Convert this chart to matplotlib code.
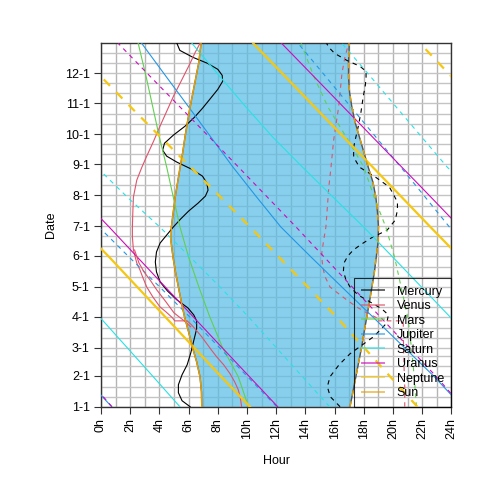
import numpy as np
import matplotlib.pyplot as plt
from matplotlib.lines import Line2D

plt.rcParams['font.family'] = ['Liberation Sans', 'DejaVu Sans']

# y axis: day of year, ticks on the first of each month
month_days = [0, 31, 59, 90, 120, 151, 181, 212, 243, 273, 304, 334]
month_labels = ['1-1', '2-1', '3-1', '4-1', '5-1', '6-1',
                '7-1', '8-1', '9-1', '10-1', '11-1', '12-1']
hour_ticks = list(range(0, 25, 2))
hour_labels = ['%dh' % h for h in hour_ticks]

# sun (hours)
sun_days = [0, 15, 30, 45, 60, 75, 90, 105, 120, 135, 150, 165, 180, 195,
            210, 225, 240, 255, 270, 285, 300, 315, 330, 345, 364]
sun_rise = [6.9, 6.88, 6.78, 6.55, 6.25, 6.0, 5.72, 5.5, 5.3, 5.1, 4.93, 4.8,
            4.82, 4.95, 5.08, 5.25, 5.42, 5.6, 5.75, 5.92, 6.1, 6.3, 6.5, 6.7, 6.85]
sun_set = [17.05, 17.25, 17.45, 17.65, 17.85, 18.02, 18.2, 18.38, 18.55, 18.72,
           18.85, 18.97, 19.0, 18.93, 18.82, 18.62, 18.3, 18.0, 17.7, 17.4,
           17.18, 17.02, 16.95, 16.95, 17.0]

# Mercury
mercury_rise_days = [0, 6, 14, 22, 32, 42, 54, 66, 78, 86, 92, 99, 107, 116, 125,
                     135, 145, 155, 164, 172, 180, 188, 196, 204, 211, 217, 224,
                     231, 238, 245, 251, 257, 264, 272, 281, 290, 299, 308, 318,
                     326, 332, 338, 344, 350, 357, 364]
mercury_rise = [6.1, 5.55, 5.3, 5.3, 5.55, 5.9, 6.15, 6.35, 6.55, 6.55, 6.35, 5.95,
                5.2, 4.55, 4.05, 3.8, 3.72, 3.8, 4.05, 4.5, 4.95, 5.45, 6.0, 6.65,
                7.15, 7.33, 7.25, 6.95, 6.2, 5.2, 4.5, 4.22, 4.35, 4.95, 5.75, 6.4,
                6.95, 7.45, 8.0, 8.33, 8.3, 8.0, 7.3, 6.3, 5.4, 5.2]
mercury_set_days = [0, 10, 20, 30, 42, 53, 62, 70, 78, 84, 92, 98, 105, 112, 120,
                    128, 136, 144, 151, 157, 163, 169, 177, 187, 197, 205, 212,
                    220, 230, 240, 250, 260, 270, 281, 295, 310, 322, 330, 336,
                    341, 347, 354, 360, 364]
mercury_set = [16.37, 15.7, 15.5, 15.68, 16.3, 17.05, 17.9, 18.65, 19.2, 19.57,
               19.68, 19.23, 18.42, 17.6, 17.05, 16.75, 16.6, 16.64, 16.9, 17.28,
               17.85, 18.5, 19.6, 20.15, 20.3, 20.3, 20.05, 19.75, 18.8, 17.7,
               17.3, 17.3, 17.45, 17.62, 17.8, 17.95, 18.1, 18.15, 18.15, 17.74,
               16.83, 16.0, 15.6, 15.45]

# Venus
venus_rise_days = [0, 8, 17, 25, 33, 42, 50, 57, 64, 70, 77, 82, 86, 86, 89, 95,
                   100, 110, 120, 130, 137, 144, 157, 170, 180, 195, 210, 227, 240,
                   251, 266, 281, 296, 311, 328, 344, 355, 364]
venus_rise = [9.63, 9.55, 9.4, 9.15, 8.84, 8.4, 7.92, 7.55, 7.2, 6.9, 6.5, 6.2,
              5.9, 5.05, 4.9, 4.45, 4.04, 3.55, 3.13, 2.85, 2.67, 2.45, 2.22, 2.15,
              2.15, 2.18, 2.22, 2.45, 2.8, 3.13, 3.6, 4.04, 4.5, 4.96, 5.55, 6.1,
              6.45, 6.78]
venus_rise_b_days = [80, 86, 94, 105, 117, 127, 135, 144, 157]
venus_rise_b = [6.15, 5.7, 5.0, 4.45, 3.82, 3.36, 2.95, 2.6, 2.3]
venus_set_days = [0, 20, 40, 60, 75, 86, 86, 89, 94, 100, 107, 114, 120, 130, 137,
                  145, 154, 167, 180, 200, 220, 240, 267, 300, 334, 350, 364]
venus_set = [20.8, 20.8, 20.75, 20.72, 20.7, 20.7, 18.9, 18.9, 18.2, 17.5, 16.83,
             16.2, 15.68, 15.35, 15.23, 15.15, 15.12, 15.25, 15.4, 15.5, 15.6,
             15.75, 15.93, 16.27, 16.5, 16.7, 16.96]

# outer planets, sampled about once a month
sample_days = [0, 30, 60, 90, 120, 150, 180, 210, 240, 270, 300, 330, 364]
mars_rise = [10.1, 9.4, 8.3, 7.45, 6.7, 6.0, 5.41, 4.95, 4.5, 4.0, 3.55, 3.1, 2.55]
mars_set = [21.6, 21.45, 21.25, 21.0, 20.55, 20.1, 19.5, 18.7, 18.0, 16.8, 15.55,
            14.6, 13.7]
jupiter_rise = [0.73, 22.83, 20.72, 18.61, 16.49, 14.38, 12.32, 10.66, 9.04, 7.53,
                6.02, 4.5, 2.79]
jupiter_set = [12.03, 10.04, 8.06, 6.07, 4.02, 1.92, 23.86, 22.2, 20.53, 18.83,
               17.13, 15.43, 13.5]
saturn_rise = [5.4, 3.58, 1.74, 23.9, 21.94, 19.97, 17.99, 15.89, 13.8, 11.77,
               9.94, 8.19, 6.23]
saturn_set = [15.65, 13.8, 11.95, 10.1, 8.15, 6.1, 4.03, 1.8, 23.71, 21.97, 20.23,
              18.5, 16.5]
uranus_rise = [12.1, 10.17, 8.24, 6.32, 4.4, 2.48, 0.56, 22.59, 20.6, 18.61,
               16.62, 14.63, 12.37]
uranus_set = [0.75, 22.97, 21.04, 19.12, 17.2, 15.28, 13.36, 11.39, 9.42, 7.43,
              5.43, 3.43, 1.18]
neptune_rise = [10.2, 8.24, 6.32, 4.4, 2.48, 0.56, 22.56, 20.59, 18.61, 16.63,
                14.65, 12.67, 10.43]
neptune_set = [21.66, 19.81, 17.97, 16.12, 14.16, 12.18, 10.21, 8.19, 6.14, 4.09,
               2.05, 0.05, 21.85]

names = ['Mercury', 'Venus', 'Mars', 'Jupiter', 'Saturn', 'Uranus', 'Neptune', 'Sun']
colors = ['black', '#DF536B', '#61D04F', '#2297E6', '#28E2E5', '#CD0BBC',
          '#F5C710', '#E69F00']


def unwrap(hours):
    # keep the line continuous across midnight
    h = np.asarray(hours, float)
    out = h.copy()
    for i in range(1, len(h)):
        k = np.round((out[i - 1] - h[i]) / 24.0)
        out[i] = h[i] + 24 * k
    return out


def draw(ax, days, hours, color, ls, lw):
    h = unwrap(hours)
    dash = (0, (4, 4)) if ls == 'dashed' else '-'
    for off in (-48, -24, 0, 24, 48):
        ax.plot(h + off, days, color=color, ls=dash, lw=lw, zorder=3)


fig = plt.figure(figsize=(4.8, 4.8), dpi=100)
ax = fig.add_axes([0.2104, 0.1527, 0.7302, 0.7571])

# grid: every hour, and the 1st, 11th and 21st of each month
for h in range(0, 25):
    ax.axvline(h, color='#B4B4B4', lw=1.0, zorder=0.5)
for m in month_days:
    for k in (0, 10, 20):
        ax.axhline(m + k, color='#C4C4C4', lw=1.0, zorder=0.5)

# daylight band, a bit see-through so the grid shows in grey
ax.fill_betweenx(sun_days, sun_rise, sun_set, color='#5BBDE6', alpha=0.72,
                 lw=0, zorder=1)
ax.plot(sun_rise, sun_days, color='#555555', lw=1.0, zorder=1.2)
ax.plot(sun_set, sun_days, color='#555555', lw=1.0, zorder=1.2)

series = [
    (mercury_rise_days, mercury_rise, mercury_set_days, mercury_set),
    (venus_rise_days, venus_rise, venus_set_days, venus_set),
    (sample_days, mars_rise, sample_days, mars_set),
    (sample_days, jupiter_rise, sample_days, jupiter_set),
    (sample_days, saturn_rise, sample_days, saturn_set),
    (sample_days, uranus_rise, sample_days, uranus_set),
    (sample_days, neptune_rise, sample_days, neptune_set),
]
for i, (rd, r, sd, s) in enumerate(series):
    lw = 1.6 if names[i] == 'Neptune' else 0.8
    draw(ax, rd, r, colors[i], 'solid', lw)
    draw(ax, sd, s, colors[i], 'dashed', lw)
draw(ax, venus_rise_b_days, venus_rise_b, colors[1], 'solid', 0.8)

ax.plot(sun_rise, sun_days, color=colors[7], lw=1.0, zorder=4)
ax.plot(sun_set, sun_days, color=colors[7], lw=1.0, ls=(0, (4, 4)), zorder=4)

ax.set_xlim(0, 24)
ax.set_ylim(0, 364.1)
ax.set_xticks(hour_ticks)
ax.set_xticklabels(hour_labels, rotation=90)
ax.set_yticks(month_days)
ax.set_yticklabels(month_labels)
ax.tick_params(direction='out', length=5, width=0.8, color='#333333',
               labelsize=9, pad=3)
for sp in ax.spines.values():
    sp.set_color('#333333')
    sp.set_linewidth(1.0)
ax.set_xlabel('Hour', fontsize=9, labelpad=12)
ax.set_ylabel('Date', fontsize=9, labelpad=6)

handles = [Line2D([], [], color=c, lw=1.4, alpha=0.6) for c in colors]
leg = ax.legend(handles, names, loc='lower right', fontsize=9, frameon=True,
                fancybox=False, edgecolor='black', facecolor='none',
                borderaxespad=0, handlelength=1.8, handletextpad=1.0,
                labelspacing=0.2, borderpad=0.6)
leg.get_frame().set_linewidth(0.8)
leg.set_zorder(5)

fig.savefig('out.png', dpi=100)
